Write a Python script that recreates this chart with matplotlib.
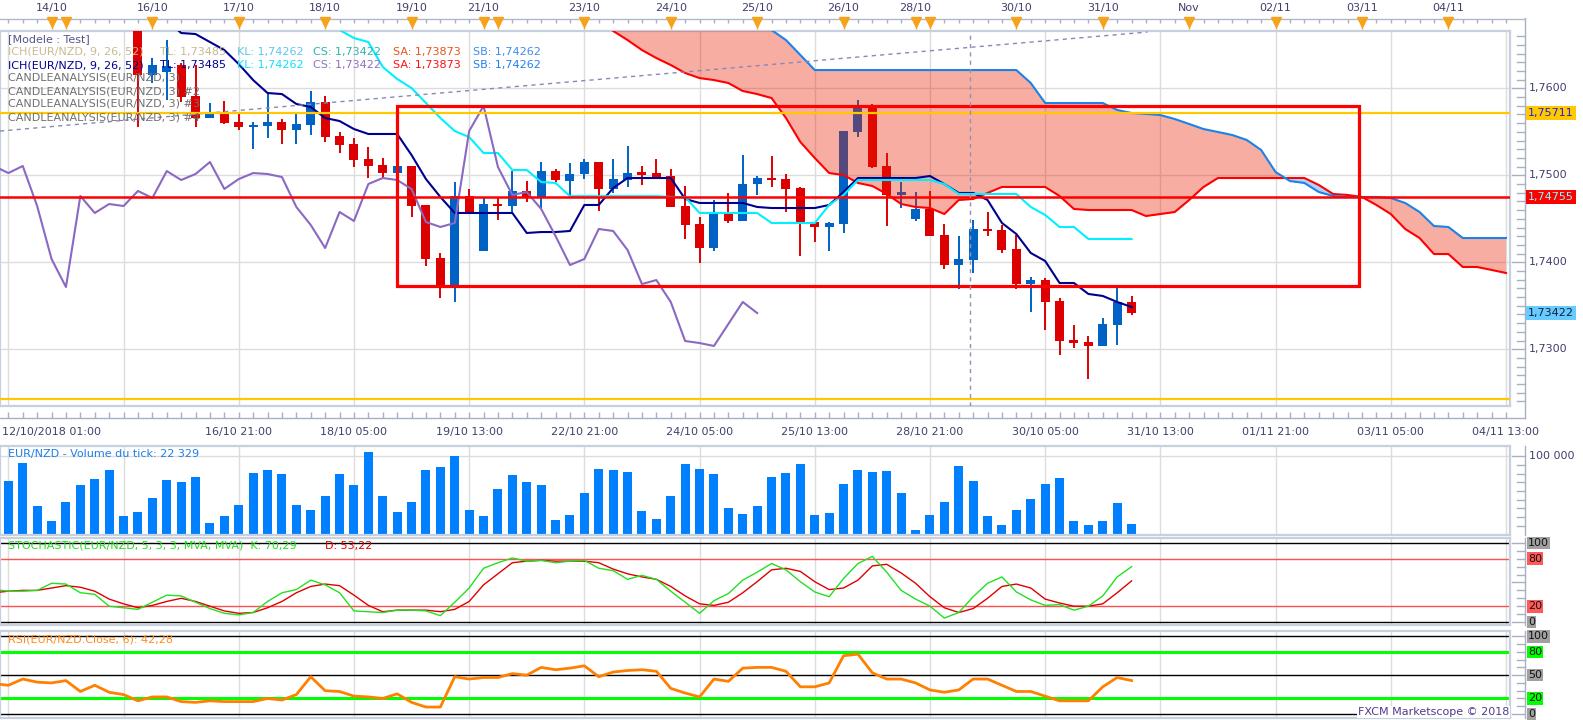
import numpy as np
import matplotlib
matplotlib.use("Agg")
import matplotlib.pyplot as plt
from matplotlib.lines import Line2D
from matplotlib.patches import Rectangle
from matplotlib.transforms import blended_transform_factory as blend

plt.rcParams['font.family'] = ['DejaVu Sans']
plt.rcParams['font.size'] = 8

# ---------------------------------------------------------------- data
# EUR/NZD 4H candles (index 0 = first visible candle)
candle_open = [1.76785, 1.76153, 1.76187, 1.76268, 1.75911, 1.75659, 1.75716, 1.75613, 1.75555, 1.75567,
               1.75613, 1.75521, 1.75578, 1.75843, 1.75452, 1.75360, 1.75187, 1.75118, 1.75026, 1.75107,
               1.74659, 1.74049, 1.73705, 1.74762, 1.74130, 1.74670, 1.74647, 1.74820, 1.74739, 1.75049,
               1.74934, 1.75015, 1.75153, 1.74843, 1.74946, 1.75026, 1.75026, 1.74992, 1.74647, 1.74440,
               1.74164, 1.74578, 1.74475, 1.74900, 1.74969, 1.74957, 1.74854, 1.74463, 1.74406, 1.74440,
               1.75498, 1.75797, 1.75107, 1.74774, 1.74498, 1.74613, 1.74314, 1.73969, 1.74026, 1.74383,
               1.74371, 1.74153, 1.73750, 1.73796, 1.73555, 1.73107, 1.73084, 1.73038, 1.73279, 1.73544]
candle_high = [1.76900, 1.76348, 1.76555, 1.76291, 1.76268, 1.75831, 1.75854, 1.75728, 1.75613, 1.75946,
               1.75647, 1.75716, 1.75969, 1.75911, 1.75498, 1.75429, 1.75325, 1.75199, 1.75555, 1.75107,
               1.74659, 1.74107, 1.74923, 1.74843, 1.74739, 1.74739, 1.75049, 1.74934, 1.75153, 1.75072,
               1.75141, 1.75187, 1.75153, 1.75187, 1.75337, 1.75107, 1.75187, 1.75072, 1.74877, 1.74521,
               1.74716, 1.74797, 1.75233, 1.74992, 1.75222, 1.75015, 1.74866, 1.74463, 1.74463, 1.75509,
               1.75865, 1.75820, 1.75256, 1.74923, 1.74808, 1.74820, 1.74440, 1.74302, 1.74486, 1.74578,
               1.74429, 1.74314, 1.73831, 1.73819, 1.73590, 1.73279, 1.73153, 1.73360, 1.73716, 1.73613]
candle_low = [1.75555, 1.76061, 1.75865, 1.75843, 1.75555, 1.75659, 1.75590, 1.75521, 1.75302, 1.75429,
              1.75360, 1.75360, 1.75463, 1.75383, 1.75256, 1.75095, 1.74969, 1.74969, 1.74980, 1.74521,
              1.73957, 1.73590, 1.73544, 1.74567, 1.74130, 1.74486, 1.74578, 1.74693, 1.74624, 1.74923,
              1.74774, 1.74957, 1.74590, 1.74797, 1.74866, 1.74889, 1.74980, 1.74636, 1.74268, 1.73992,
              1.74130, 1.74452, 1.74475, 1.74774, 1.74866, 1.74578, 1.74072, 1.74233, 1.74130, 1.74337,
              1.75440, 1.75084, 1.74417, 1.74624, 1.74475, 1.74302, 1.73923, 1.73693, 1.73877, 1.74302,
              1.74107, 1.73693, 1.73429, 1.73222, 1.72934, 1.73015, 1.72659, 1.73038, 1.73049, 1.73394]
candle_close = [1.76153, 1.76268, 1.76256, 1.75900, 1.75659, 1.75716, 1.75601, 1.75555, 1.75578, 1.75613,
                1.75521, 1.75590, 1.75843, 1.75440, 1.75348, 1.75176, 1.75107, 1.75026, 1.75107, 1.74647,
                1.74038, 1.73716, 1.74762, 1.74567, 1.74670, 1.74647, 1.74820, 1.74739, 1.75049, 1.74946,
                1.75015, 1.75153, 1.74843, 1.74957, 1.75026, 1.75015, 1.74980, 1.74636, 1.74429, 1.74164,
                1.74578, 1.74475, 1.74900, 1.74969, 1.74946, 1.74843, 1.74463, 1.74406, 1.74452, 1.75509,
                1.75797, 1.75095, 1.74774, 1.74808, 1.74613, 1.74302, 1.73969, 1.74038, 1.74383, 1.74360,
                1.74141, 1.73750, 1.73796, 1.73544, 1.73095, 1.73072, 1.73038, 1.73291, 1.73544, 1.73417]

# Ichimoku (9, 26, 52)
tenkan_start = 2
tenkan = [1.76785, 1.76636, 1.76624, 1.76532, 1.76440, 1.76279, 1.76095, 1.75946, 1.75934, 1.75820,
          1.75785, 1.75659, 1.75624, 1.75532, 1.75475, 1.75475, 1.75475, 1.75233, 1.74957, 1.74751,
          1.74567, 1.74567, 1.74567, 1.74567, 1.74567, 1.74337, 1.74348, 1.74348, 1.74360, 1.74659,
          1.74659, 1.74854, 1.74969, 1.74969, 1.74969, 1.74969, 1.74728, 1.74682, 1.74682, 1.74682,
          1.74682, 1.74636, 1.74624, 1.74624, 1.74624, 1.74624, 1.74659, 1.74808, 1.74969, 1.74969,
          1.74969, 1.74969, 1.74969, 1.74992, 1.74900, 1.74797, 1.74797, 1.74716, 1.74452, 1.74325,
          1.74107, 1.74015, 1.73762, 1.73762, 1.73636, 1.73613, 1.73544, 1.73486]
kijun_start = 13
kijun = [1.76842, 1.76670, 1.76578, 1.76532, 1.76245, 1.76107, 1.76003, 1.75831, 1.75659, 1.75509,
         1.75440, 1.75256, 1.75256, 1.75061, 1.75061, 1.74923, 1.74912, 1.74760, 1.74760, 1.74760,
         1.74760, 1.74760, 1.74760, 1.74760, 1.74751, 1.74751, 1.74567, 1.74567, 1.74567, 1.74567,
         1.74567, 1.74452, 1.74452, 1.74452, 1.74452, 1.74659, 1.74774, 1.74946, 1.74946, 1.74946,
         1.74946, 1.74946, 1.74946, 1.74900, 1.74785, 1.74785, 1.74785, 1.74785, 1.74785, 1.74636,
         1.74544, 1.74406, 1.74406, 1.74268, 1.74268, 1.74268, 1.74268]
cloud_start = 33
senkou_a = [1.76659, 1.76555, 1.76440, 1.76348, 1.76268, 1.76176, 1.76118, 1.76095, 1.76061, 1.75969,
            1.75934, 1.75888, 1.75659, 1.75383, 1.75199, 1.75026, 1.75003, 1.74912, 1.74877, 1.74785,
            1.74670, 1.74636, 1.74624, 1.74555, 1.74716, 1.74728, 1.74797, 1.74866, 1.74866, 1.74866,
            1.74866, 1.74762, 1.74613, 1.74601, 1.74601, 1.74601, 1.74601, 1.74532, 1.74555, 1.74578,
            1.74716, 1.74866, 1.74969, 1.74969, 1.74969, 1.74969, 1.74969, 1.74969, 1.74969, 1.74889,
            1.74785, 1.74774, 1.74751, 1.74659, 1.74555, 1.74383, 1.74279, 1.74095, 1.74095, 1.73946,
            1.73946, 1.73912, 1.73877]
senkou_b = [1.77000] * 11 + [1.76670, 1.76555, 1.76383] + [1.76210] * 15 + [1.76061] + [1.75831] * 5 + \
           [1.75751, 1.75716, 1.75705, 1.75693, 1.75647, 1.75590, 1.75532, 1.75498, 1.75463, 1.75406,
            1.75291, 1.75038, 1.74934, 1.74912, 1.74808, 1.74762, 1.74751, 1.74751, 1.74751, 1.74739,
            1.74682, 1.74578, 1.74417, 1.74406, 1.74279, 1.74279, 1.74279, 1.74279]
chikou_shift = 26

# levels / drawings
level_gold_top = 1.75711
level_red = 1.74755
level_gold_bottom = 1.72430
last_close_label = 1.73422
box_idx = (18.0, 84.8)
box_price = (1.73728, 1.75800)
trend_idx = (-9.58, 70.1)
trend_price = (1.75509, 1.76647)
cursor_idx = 57.8

# volume (thousands), starting at index -9
volume_start = -9
volume_k = [68, 92, 36, 17, 41, 63, 71, 82, 23, 29,
            47, 69, 67, 74, 15, 24, 38, 79, 82, 77,
            37, 31, 49, 77, 63, 106, 49, 28, 41, 83,
            86, 101, 31, 23, 58, 76, 67, 63, 18,
            25, 53, 84, 82, 80, 30, 20, 49, 90, 84,
            77, 34, 26, 36, 73, 79, 90, 25, 27, 64,
            82, 80, 81, 53, 6, 25, 41, 88, 68, 23,
            12, 31, 45, 64, 72, 17, 12, 17, 40, 13]

# oscillators, starting at index -10
osc_start = -10
stoch_k = [41, 39, 39, 40, 49, 48, 37, 35, 20, 18, 16,
           25, 34, 33, 25, 17, 11, 9, 12, 26, 37,
           41, 53, 47, 37, 14, 13, 12, 15, 15, 14,
           8, 25, 43, 68, 75, 81, 77, 78, 75, 77,
           78, 68,
           65, 54, 59, 54, 39, 25, 11, 27, 36, 53,
           63, 74, 66, 51, 38, 32, 55, 74, 83, 63,
           40, 29, 20, 5, 12, 32, 49, 57, 38, 28,
           21, 22, 15, 20, 33, 57, 70]
stoch_d = [37, 39, 40, 40, 43, 46, 44, 39, 29, 23, 18,
           21, 26, 30, 26, 20, 14, 11, 12, 18, 26,
           37, 45, 48, 46, 34, 21, 13, 15, 15, 15,
           13, 16, 26, 47, 61, 75, 77, 78, 77, 77,
           77, 75,
           67, 61, 57, 54, 45, 33, 23, 21, 25, 37,
           51, 66, 68, 64, 51, 41, 43, 53, 71, 73,
           62, 49, 32, 18, 12, 17, 30, 45, 48, 43,
           29, 24, 20, 20, 23, 37, 52]
rsi = [39, 37, 45, 41, 40, 43, 29, 37, 28, 25, 17,
       22, 22, 16, 15, 17, 16, 16, 16, 20, 18,
       25, 48, 30, 29, 23, 22, 20, 26, 15, 9,
       9, 48, 45, 47, 47, 52, 50, 60, 57, 59,
       62, 48,
       54, 56, 57, 55, 33, 27, 22, 45, 42, 59,
       60, 60, 55, 35, 35, 40, 75, 77, 53, 45,
       45, 40, 31, 28, 31, 45, 45, 37, 29, 29,
       23, 17, 17, 17, 35, 47, 43]

top_day_labels = ['14/10', '16/10', '17/10', '18/10', '19/10', '21/10', '23/10', '24/10', '25/10',
                  '26/10', '28/10', '30/10', '31/10', 'Nov', '02/11', '03/11', '04/11']
top_day_idx = [-6, 1, 7, 13, 19, 24, 31, 37, 43, 49, 54, 61, 67, 73, 79, 85, 91]
day_marker_idx = [-6, -5, 1, 7, 13, 19, 24, 25, 31, 37, 43, 49, 54, 55, 61, 67, 73, 79, 85, 91]
bottom_labels = ['12/10/2018 01:00', '16/10 21:00', '18/10 05:00', '19/10 13:00', '22/10 21:00',
                 '24/10 05:00', '25/10 13:00', '28/10 21:00', '30/10 05:00', '31/10 13:00',
                 '01/11 21:00', '03/11 05:00', '04/11 13:00']
bottom_label_idx = [-9, 7, 15, 23, 31, 39, 47, 55, 63, 71, 79, 87, 95]
price_ticks = [1.73, 1.74, 1.75, 1.76]

# ---------------------------------------------------------------- figure
W, H = 1583, 720
fig = plt.figure(figsize=(W / 100, H / 100), dpi=100)
fig.patch.set_facecolor('white')


def rect(x0, y0, x1, y1):
    return [x0 / W, 1 - y1 / H, (x1 - x0) / W, (y1 - y0) / H]


def ftext(x, y, s, **kw):
    return fig.text(x / W, 1 - y / H, s, **kw)


XLIM = (-9.58, 95.28)
TXT = '#40406E'
RED = '#DD0000'
BLUE = '#0062C4'
FRAME = '#C6D0DE'

ax = fig.add_axes(rect(0, 31, 1510, 406))
axv = fig.add_axes(rect(0, 446, 1510, 535))
axs = fig.add_axes(rect(0, 538, 1510, 625))
axr = fig.add_axes(rect(0, 631, 1510, 718))
ax.set_ylim(1.72348, 1.76659)
axv.set_ylim(-0.9, 113.2)
axs.set_ylim(-3.8, 106.3)
axr.set_ylim(-5.1, 106.8)
for a in (ax, axv, axs, axr):
    a.set_xlim(*XLIM)
    a.set_xticks([])
    a.set_yticks([])
    a.set_facecolor('white')
    for s in a.spines.values():
        s.set_color(FRAME)
        s.set_linewidth(1.6)
    for g in np.arange(-9, 96, 8):
        a.axvline(g, color='#DCDCDC', lw=1, zorder=0)

# ---------------- main price panel
for p in price_ticks:
    ax.axhline(p, color='#DCDCDC', lw=1, zorder=0)

o = np.array(candle_open)
hi = np.array(candle_high)
lo = np.array(candle_low)
cl = np.array(candle_close)
ci = np.arange(len(o))
col = np.where(cl >= o, BLUE, RED)
ax.vlines(ci, lo, hi, colors=col, lw=1.4, zorder=3)
ht = np.maximum(np.abs(cl - o), 0.00024)
ax.bar(ci, ht, bottom=(o + cl) / 2 - ht / 2, width=0.62, color=col, lw=0, zorder=3)

kx = np.arange(cloud_start, cloud_start + len(senkou_a))
sa = np.array(senkou_a)
sb = np.array(senkou_b)
ax.fill_between(kx, sa, sb, where=sb >= sa, interpolate=True, color=(0.925, 0.11, 0.0),
                alpha=0.36, lw=0, zorder=4)
ax.fill_between(kx, sa, sb, where=sa > sb, interpolate=True, color=(0.10, 0.50, 0.92),
                alpha=0.35, lw=0, zorder=4)
ax.plot(kx, sa, color='#FF0000', lw=1.5, zorder=5)
ax.plot(kx, sb, color='#1A82E8', lw=1.5, zorder=5)

ax.plot(np.arange(tenkan_start, tenkan_start + len(tenkan)), tenkan, color='#00008E', lw=1.5, zorder=5)
ax.plot(np.arange(kijun_start, kijun_start + len(kijun)), kijun, color='#00F0FF', lw=1.5, zorder=5)
chk_from = 16
ax.plot(ci[chk_from:] - chikou_shift, cl[chk_from:], color='#8A68C4', lw=1.5, zorder=5)

ax.axhline(level_gold_top, color='#FFC800', lw=1.6, zorder=6)
ax.axhline(level_gold_bottom, color='#FFC800', lw=1.6, zorder=6)
ax.axhline(level_red, color='#FF0000', lw=1.8, zorder=6)
ax.add_patch(Rectangle((box_idx[0], box_price[0]), box_idx[1] - box_idx[0], box_price[1] - box_price[0],
                       fill=False, ec='#FF0000', lw=2.3, zorder=6))
ax.plot(trend_idx, trend_price, color='#8888B8', lw=1, ls=(0, (3, 3)), zorder=5)
ax.axvline(cursor_idx, color='#8C94B4', lw=1, ls=(0, (3, 3)), zorder=6)

# right price axis
bt = blend(fig.transFigure, ax.transData)
ax.add_line(Line2D([1525 / W, 1525 / W], [1.72348 - 0.0014, 1.76659 + 0.0015], transform=bt,
                   color='#A8B0C4', lw=1, clip_on=False))
for k in range(1724, 1767):
    p = k / 1000
    x0 = 1512 if k % 10 == 0 else 1517
    ax.add_line(Line2D([x0 / W, 1525 / W], [p, p], transform=bt, color='#A8B0C4', lw=1, clip_on=False))
for p in price_ticks:
    ax.text(1529 / W, p, f'{p:.4f}'.replace('.', ','), transform=bt, va='center', ha='left',
            color=TXT, fontsize=8)
for p, fc, tc in ((level_gold_top, '#FFC800', '#2424C8'), (level_red, '#FF0000', '#7FFFFF'),
                  (last_close_label, '#66CCFF', '#102040')):
    ax.text(1528 / W, p, f'{p:.5f}'.replace('.', ','), transform=bt, va='center', ha='left', color=tc,
            fontsize=8, bbox=dict(boxstyle='square,pad=0.18', fc=fc, ec='none'))

# top ruler
axt = fig.add_axes(rect(0, 18, 1510, 31))
axt.set_xlim(*XLIM)
axt.set_ylim(31, 18)
axt.axis('off')
x_end = XLIM[0] + (XLIM[1] - XLIM[0]) * 1525 / 1510
axt.plot([XLIM[0], x_end], [19, 19], color='#B0B8CA', lw=1, clip_on=False)
axt.vlines(np.arange(-9, 96), 19, 23.5, color='#A8B0C4', lw=1)
axt.vlines(day_marker_idx, 19, 29, color='#F7A21B', lw=1)
axt.plot(day_marker_idx, [22.5] * len(day_marker_idx), ls='none', marker='v', ms=7.5,
         color='#F7A21B', mec='#F7A21B', clip_on=False)
for i, s in zip(top_day_idx, top_day_labels):
    axt.text(i, 8.5, s, ha='center', va='center', color=TXT, fontsize=8, clip_on=False)

# bottom ruler
axb = fig.add_axes(rect(0, 406, 1510, 418))
axb.set_xlim(*XLIM)
axb.set_ylim(418, 406)
axb.axis('off')
axb.plot([XLIM[0], x_end], [418, 418], color='#A8B0C4', lw=1, clip_on=False)
axb.vlines(np.arange(-9, 96), 411.5, 418, color='#A8B0C4', lw=1)
for i, s in zip(bottom_label_idx, bottom_labels):
    if i == bottom_label_idx[0]:
        ftext(2, 432, s, ha='left', va='center', color=TXT, fontsize=8)
    else:
        axb.text(i, 432, s, ha='center', va='center', color=TXT, fontsize=8, clip_on=False)

# legend block
ftext(8, 39, '[Modele : Test]', color='#55558A', va='center', fontsize=8)
seg_x = [8, 160, 237, 313, 393, 473]
seg_txt = ['ICH(EUR/NZD, 9, 26, 52)', 'TL: 1,73485', 'KL: 1,74262', 'CS: 1,73422', 'SA: 1,73873',
           'SB: 1,74262']
row1_col = ['#C8BA92', '#C8BA92', '#5CC6F0', '#2CB4B0', '#E8541E', '#3C8CF0']
row2_col = ['#000090', '#000090', '#10E0F8', '#9070C0', '#FF1010', '#2080F0']
for x, s, c1, c2 in zip(seg_x, seg_txt, row1_col, row2_col):
    ftext(x, 52, s, color=c1, va='center', fontsize=8)
    ftext(x, 65, s, color=c2, va='center', fontsize=8)
for k, suffix in enumerate(['', ' #2', ' #3', ' #4']):
    ftext(8, 78 + 13 * k, 'CANDLEANALYSIS(EUR/NZD, 3)' + suffix, color='#707070', va='center', fontsize=8)

# ---------------- volume panel
vx = np.arange(volume_start, volume_start + len(volume_k))
axv.axhline(100, color='#DCDCDC', lw=1, zorder=0)
axv.bar(vx, volume_k, width=0.63, color='#0080FF', lw=0, zorder=2)
ftext(8, 454, 'EUR/NZD - Volume du tick: 22 329', color='#1E7FE8', va='center', fontsize=8)

# ---------------- stochastic panel
ox = np.arange(osc_start, osc_start + len(stoch_k))
axs.axhline(100, color='black', lw=1)
axs.axhline(0, color='black', lw=1)
axs.axhline(80, color='#FF5050', lw=1)
axs.axhline(20, color='#FF5050', lw=1)
axs.plot(ox, stoch_d, color='#E00000', lw=1, zorder=3)
axs.plot(ox, stoch_k, color='#22E022', lw=1, zorder=3)
ftext(8, 546, 'STOCHASTIC(EUR/NZD, 5, 3, 3, MVA, MVA)  K: 70,29', color='#22DD22', va='center', fontsize=8)
ftext(325, 546, 'D: 53,22', color='#E00000', va='center', fontsize=8)

# ---------------- RSI panel
axr.axhline(100, color='black', lw=1)
axr.axhline(50, color='black', lw=1)
axr.axhline(0, color='black', lw=1)
axr.axhline(80, color='#00FF00', lw=2.2)
axr.axhline(20, color='#00FF00', lw=2.2)
axr.plot(np.arange(osc_start, osc_start + len(rsi)), rsi, color='#FF8000', lw=2, zorder=3)
ftext(8, 639, 'RSI(EUR/NZD.Close, 6): 42,28', color='#FF8C1A', va='center', fontsize=8)
ftext(1509, 712, 'FXCM Marketscope © 2018', color='#4E3C8C', va='center', ha='right', fontsize=8,
      bbox=dict(boxstyle='square,pad=0.1', fc='white', ec='none'))


# right axes of lower panels
def side_axis(a, lo_v, hi_v, step, major, labels):
    t = blend(fig.transFigure, a.transData)
    y0, y1 = a.get_ylim()
    a.add_line(Line2D([1525 / W, 1525 / W], [y0, y1], transform=t, color='#A8B0C4', lw=1, clip_on=False))
    v = lo_v
    while v <= hi_v + 1e-9:
        x0 = 1512 if any(abs(v - m) < 1e-6 for m in major) else 1517
        a.add_line(Line2D([x0 / W, 1525 / W], [v, v], transform=t, color='#A8B0C4', lw=1, clip_on=False))
        v += step
    for val, s, fc in labels:
        kw = dict(transform=t, va='center', ha='left', fontsize=8)
        if fc is None:
            a.text(1529 / W, val, s, color=TXT, **kw)
        else:
            a.text(1528 / W, val, s, color='#111111',
                   bbox=dict(boxstyle='square,pad=0.12', fc=fc, ec='none'), **kw)


side_axis(axv, 100 - 8 * 100 / 9, 100, 100 / 9, [100], [(100, '100 000', None)])
side_axis(axs, 0, 100, 10, [0, 50, 100], [(100, '100', '#A0A0A0'), (80, '80', '#FF5A5A'),
                                          (20, '20', '#FF5A5A'), (0, '0', '#A0A0A0')])
side_axis(axr, 0, 100, 10, [0, 50, 100], [(100, '100', '#A0A0A0'), (80, '80', '#00FF00'),
                                          (50, '50', '#A0A0A0'), (20, '20', '#00FF00'),
                                          (0, '0', '#A0A0A0')])

fig.savefig('out.png', dpi=100, facecolor='white')
